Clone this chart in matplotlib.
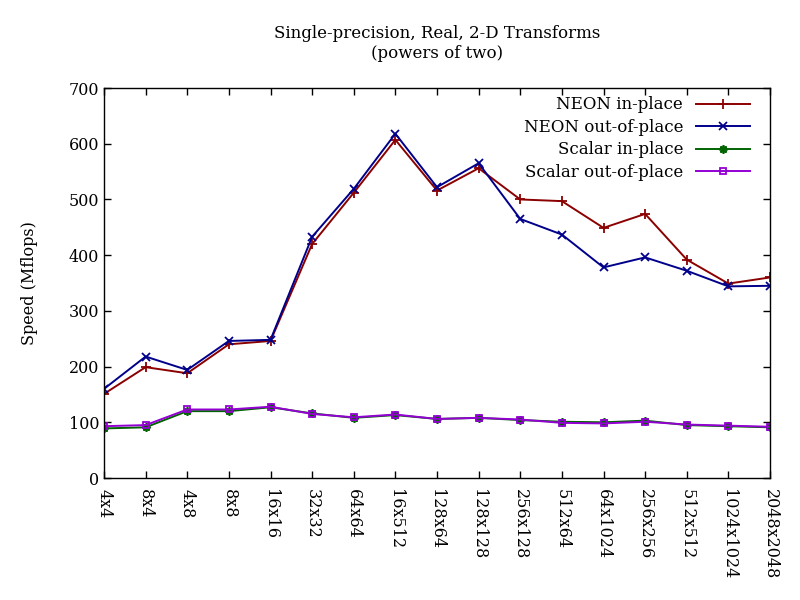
import matplotlib
matplotlib.use('Agg')
import matplotlib.pyplot as plt

plt.rcParams['font.family'] = ['DejaVu Serif']

sizes = ['4x4', '8x4', '4x8', '8x8', '16x16', '32x32', '64x64', '16x512', '128x64',
         '128x128', '256x128', '512x64', '64x1024', '256x256', '512x512',
         '1024x1024', '2048x2048']

neon_in = [151, 199, 188, 240, 246, 420, 512, 607, 516, 556, 500, 497, 449, 474, 392, 349, 360]
neon_out = [160, 218, 194, 246, 248, 433, 519, 618, 522, 565, 465, 437, 378, 396, 372, 344, 345]
scalar_in = [89, 91, 120, 120, 127, 116, 108, 113, 106, 108, 104, 101, 100, 103, 95, 93, 91]
scalar_out = [93, 95, 123, 123, 128, 115, 109, 114, 106, 108, 105, 99, 98, 101, 96, 94, 92]

fig = plt.figure(figsize=(8, 6), dpi=100)
ax = fig.add_axes([0.13, 0.2033, 0.8325, 0.65])

x = list(range(len(sizes)))
ax.plot(x, neon_in, color='#8b0000', lw=1.4, marker='+', ms=7, mew=1.3, label='NEON in-place')
ax.plot(x, neon_out, color='#00008b', lw=1.4, marker='x', ms=6, mew=1.3, label='NEON out-of-place')
ax.plot(x, scalar_in, color='#006400', lw=1.4, marker=(8, 2, 0), ms=6, mew=1.3, label='Scalar in-place')
ax.plot(x, scalar_out, color='#9400d3', lw=1.4, marker='s', ms=5, mew=1.3, fillstyle='none', label='Scalar out-of-place')

ax.set_xlim(0, len(sizes) - 1)
ax.set_ylim(0, 700)
ax.set_xticks(x)
ax.set_xticklabels(sizes, rotation=-90, ha='center', va='top', fontsize=11.5)
ax.set_yticks(range(0, 701, 100))
ax.tick_params(axis='y', labelsize=11.5)
ax.tick_params(direction='in', top=True, right=True, length=5, width=1)
ax.tick_params(axis='x', pad=8)
for s in ax.spines.values():
    s.set_linewidth(1)

ax.set_ylabel('Speed (Mflops)', fontsize=11.5, labelpad=22)
fig.text(0.546, 0.945, 'Single-precision, Real, 2-D Transforms', ha='center', va='center', fontsize=12)
fig.text(0.546, 0.91, '(powers of two)', ha='center', va='center', fontsize=12)

ax.legend(loc='upper right', frameon=False, markerfirst=False, fontsize=12,
          handlelength=3.2, labelspacing=0.33, borderaxespad=0.2, borderpad=0.3,
          handletextpad=0.8, bbox_to_anchor=(0.982, 1.0))

fig.savefig('out.png', dpi=100)
